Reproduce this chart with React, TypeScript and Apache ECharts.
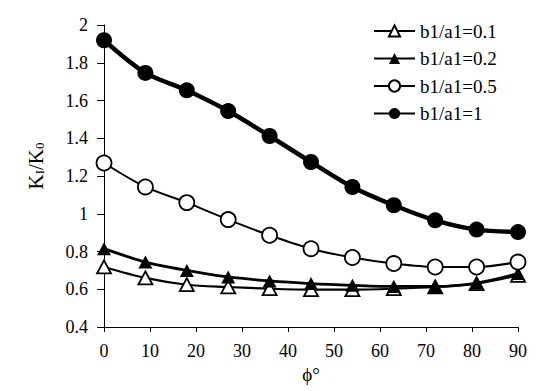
import React, { useEffect, useRef } from "react";
import * as echarts from "echarts";

const phi = [0, 9, 18, 27, 36, 45, 54, 63, 72, 81, 90];
const seriesNames = ["b1/a1=0.1", "b1/a1=0.2", "b1/a1=0.5", "b1/a1=1"];
const r01 = [0.718, 0.66, 0.624, 0.612, 0.603, 0.598, 0.598, 0.603, 0.612, 0.63, 0.674];
const r02 = [0.815, 0.744, 0.7, 0.665, 0.644, 0.63, 0.621, 0.615, 0.615, 0.633, 0.683];
const r05 = [1.269, 1.142, 1.059, 0.969, 0.886, 0.815, 0.768, 0.736, 0.718, 0.718, 0.744];
const r1 = [1.919, 1.746, 1.654, 1.544, 1.412, 1.274, 1.142, 1.045, 0.965, 0.916, 0.903];
const xTicks = { min: 0, max: 90, interval: 10 };
const yTicks = { min: 0.4, max: 2, interval: 0.2 };

const FONT = "Liberation Serif";

export default function App() {
  const ref = useRef<HTMLDivElement>(null);
  useEffect(() => {
    if (!ref.current) return;
    const chart = echarts.init(ref.current, null, { renderer: "svg" });
    const pair = (arr: number[]) => phi.map((x, i) => [x, arr[i]]);
    const mk = (
      name: string,
      data: number[],
      symbol: string,
      size: number | number[],
      filled: boolean,
      width: number
    ) => ({
      name,
      type: "line",
      data: pair(data),
      smooth: 0.3,
      symbol,
      symbolSize: size,
      showAllSymbol: true,
      lineStyle: { color: "#000", width },
      itemStyle: {
        color: filled ? "#000" : "#fff",
        borderColor: "#000",
        borderWidth: filled ? 0 : 1.8,
      },
      emphasis: { disabled: true },
    });
    chart.setOption({
      animation: false,
      backgroundColor: "#fff",
      textStyle: { fontFamily: FONT, color: "#000" },
      grid: { left: 104, right: 37, top: 25, bottom: 64, containLabel: false },
      legend: {
        orient: "vertical",
        left: 368,
        top: 16,
        itemWidth: 41,
        itemHeight: 14,
        itemGap: 7.5,
        textStyle: { fontFamily: FONT, fontSize: 19, color: "#000", lineHeight: 20 },
        data: seriesNames,
      },
      xAxis: {
        type: "value",
        min: xTicks.min,
        max: xTicks.max,
        interval: xTicks.interval,
        name: "ϕ°",
        nameLocation: "middle",
        nameGap: 38,
        nameTextStyle: { fontFamily: FONT, fontSize: 19, color: "#000" },
        axisLine: { lineStyle: { color: "#000", width: 1 } },
        axisTick: { show: true, length: 5, lineStyle: { color: "#000" } },
        axisLabel: { fontFamily: FONT, fontSize: 18, color: "#000", margin: 15 },
        splitLine: { show: false },
      },
      yAxis: {
        type: "value",
        min: yTicks.min,
        max: yTicks.max,
        interval: yTicks.interval,
        name: "{a|K}{b|I}{a|/K}{b|0}",
        nameLocation: "middle",
        nameGap: 58,
        nameTextStyle: {
          fontFamily: FONT,
          fontSize: 21,
          color: "#000",
          padding: [0, 0, 0, 20],
          rich: {
            a: { fontFamily: FONT, fontSize: 21, color: "#000", lineHeight: 21 },
            b: {
              fontFamily: FONT,
              fontSize: 13,
              color: "#000",
              lineHeight: 13,
              verticalAlign: "bottom",
              padding: [12, 0, 0, 0],
            },
          },
        },
        axisLine: { show: true, lineStyle: { color: "#000", width: 1 } },
        axisTick: { show: true, length: 7, lineStyle: { color: "#000" } },
        axisLabel: {
          fontFamily: FONT,
          fontSize: 18,
          color: "#000",
          margin: 16,
          formatter: (v: number) => String(Math.round(v * 10) / 10),
        },
        splitLine: { show: false },
      },
      series: [
        mk(seriesNames[0], r01, "triangle", [14, 13], false, 2.2),
        mk(seriesNames[1], r02, "triangle", [14, 13], true, 2.8),
        mk(seriesNames[2], r05, "circle", 15, false, 2),
        mk(seriesNames[3], r1, "circle", 16, true, 4.5),
      ],
    });
    return () => chart.dispose();
  }, []);
  return (
    <div
      ref={ref}
      style={{ position: "fixed", left: 0, top: 0, width: 555, height: 391, background: "#fff" }}
    />
  );
}
